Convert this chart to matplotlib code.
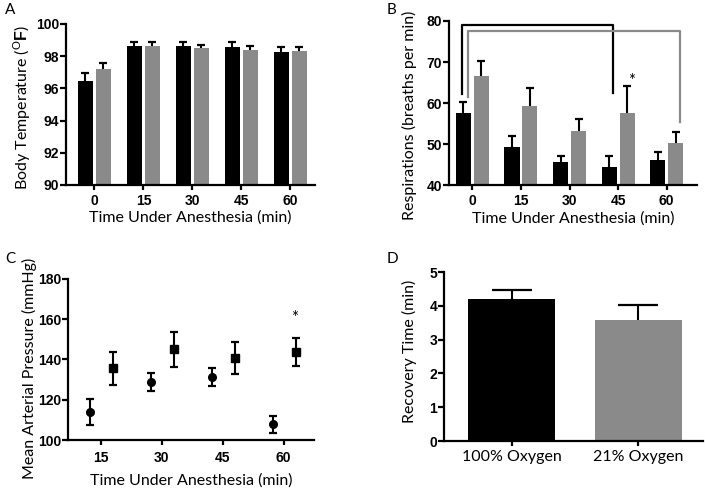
import numpy as np
import matplotlib.pyplot as plt

# ---- data ----
times = ['0', '15', '30', '45', '60']

temp_100 = [96.47, 98.60, 98.60, 98.55, 98.28]
temp_100_err = [0.50, 0.27, 0.25, 0.35, 0.26]
temp_21 = [97.23, 98.64, 98.49, 98.41, 98.34]
temp_21_err = [0.32, 0.24, 0.21, 0.24, 0.21]

resp_100 = [57.7, 49.3, 45.6, 44.4, 46.2]
resp_100_err = [2.5, 2.8, 1.6, 2.7, 2.0]
resp_21 = [66.6, 59.4, 53.3, 57.6, 50.4]
resp_21_err = [3.7, 4.2, 2.8, 6.7, 2.5]

map_x = [15, 30, 45, 60]
map_100 = [114.0, 128.9, 131.3, 107.8]
map_100_err = [6.6, 4.4, 4.3, 4.4]
map_21 = [135.5, 145.0, 140.7, 143.5]
map_21_err = [8.2, 8.6, 7.8, 6.9]

groups = ['100% Oxygen', '21% Oxygen']
recovery = [4.21, 3.57]
recovery_err = [0.27, 0.47]

BLACK = '#000000'
GREY = '#8a8a8a'
XLABEL_SIZE = 11.5
YLABEL_SIZE = 11.5

plt.rcParams['font.family'] = ['Lato', 'DejaVu Sans']
plt.rcParams['mathtext.fontset'] = 'custom'
plt.rcParams['mathtext.rm'] = 'Lato'
plt.rcParams['mathtext.bf'] = 'Liberation Sans:bold'

fig = plt.figure(figsize=(7.05, 4.88), dpi=100)


def style(ax, xpad=3):
    for s in ['top', 'right']:
        ax.spines[s].set_visible(False)
    for s in ['left', 'bottom']:
        ax.spines[s].set_linewidth(1.6)
    ax.tick_params(axis='y', length=4, width=1.6, pad=1)
    ax.tick_params(axis='x', length=3.5, width=1.6, pad=xpad)
    for lab in ax.get_xticklabels() + ax.get_yticklabels():
        lab.set_fontfamily('Liberation Sans')
        lab.set_fontweight('bold')
        lab.set_fontsize(10)


def up_errorbar(ax, x, y, err, capsize):
    # one-sided (upper) error bars, lower cap hidden
    _, caps, _ = ax.errorbar(x, y, yerr=[np.zeros(len(y)), err], fmt='none',
                             ecolor=BLACK, elinewidth=1.5, capsize=capsize,
                             capthick=1.6)
    caps[0].set_visible(False)


def grouped(ax, a, a_err, b, b_err):
    x = np.arange(len(a))
    w = 0.31
    d = 0.185
    ax.bar(x - d, a, w, color=BLACK)
    ax.bar(x + d, b, w, color=GREY)
    up_errorbar(ax, x - d, a, a_err, 2.6)
    up_errorbar(ax, x + d, b, b_err, 2.6)
    ax.set_xticks(x)
    ax.set_xticklabels(times)
    return x


# ---- A: body temperature ----
axA = fig.add_axes([0.0936, 0.621, 0.353, 0.330])
grouped(axA, temp_100, temp_100_err, temp_21, temp_21_err)
axA.set_xlim(-0.58, 4.5)
axA.set_ylim(90, 100)
axA.set_yticks(np.arange(90, 101, 2))
axA.set_ylabel(r'Body Temperature ($^{\mathrm{O}}$$\mathbf{F}$)', fontsize=YLABEL_SIZE)
axA.yaxis.set_label_coords(-0.133, 0.484)
axA.set_xlabel('Time Under Anesthesia (min)', fontsize=XLABEL_SIZE, labelpad=2)
style(axA)

# ---- B: respirations ----
axB = fig.add_axes([0.637, 0.620, 0.352, 0.337])
grouped(axB, resp_100, resp_100_err, resp_21, resp_21_err)
axB.set_xlim(-0.48, 4.63)
axB.set_ylim(40, 80)
axB.set_yticks(np.arange(40, 81, 10))
axB.plot([-0.22, -0.22, 2.90, 2.90], [62.3, 79.1, 79.1, 62.4], color=BLACK, lw=1.6,
         clip_on=False)
axB.plot([-0.09, -0.09, 4.28, 4.28], [61.5, 77.5, 77.5, 55.5], color=GREY, lw=1.6,
         clip_on=False)
axB.text(3.27, 65.4, '*', ha='center', va='center', fontsize=12)
axB.set_ylabel('Respirations (breaths per min)', fontsize=YLABEL_SIZE)
axB.yaxis.set_label_coords(-0.129, 0.427)
axB.set_xlabel('Time Under Anesthesia (min)', fontsize=XLABEL_SIZE, labelpad=2)
style(axB)

# ---- C: mean arterial pressure ----
axC = fig.add_axes([0.0965, 0.098, 0.349, 0.331])
xc = np.array(map_x)
axC.errorbar(xc - 2.7, map_100, yerr=map_100_err, fmt='o', color=BLACK, ms=5.5,
             elinewidth=1.5, capsize=2.6, capthick=1.6)
axC.errorbar(xc + 3.0, map_21, yerr=map_21_err, fmt='s', color=BLACK, ms=5.5,
             elinewidth=1.5, capsize=2.6, capthick=1.6)
axC.text(62.8, 160.5, '*', ha='center', va='center', fontsize=12)
axC.set_xlim(7, 67.5)
axC.set_ylim(100, 180)
axC.set_xticks(map_x)
axC.set_yticks(np.arange(100, 181, 20))
axC.set_ylabel('Mean Arterial Pressure (mmHg)', fontsize=YLABEL_SIZE)
axC.yaxis.set_label_coords(-0.126, 0.444)
axC.set_xlabel('Time Under Anesthesia (min)', fontsize=XLABEL_SIZE, labelpad=6)
style(axC, xpad=4)

# ---- D: recovery time ----
axD = fig.add_axes([0.630, 0.0963, 0.367, 0.346])
xd = np.arange(len(groups))
axD.bar(xd, recovery, 0.684, color=[BLACK, GREY])
up_errorbar(axD, xd, recovery, recovery_err, 14.5)
axD.set_xlim(-0.534, 1.51)
axD.set_ylim(0, 5)
axD.set_xticks(xd)
axD.set_xticklabels(groups)
axD.set_ylabel('Recovery Time (min)', fontsize=YLABEL_SIZE)
axD.yaxis.set_label_coords(-0.104, 0.533)
style(axD)
for lab in axD.get_xticklabels():
    lab.set_fontfamily('Lato')
    lab.set_fontweight('normal')
    lab.set_fontsize(XLABEL_SIZE)

for lbl, (px, py) in zip('ABCD', [(5, 3), (387, 3), (5, 252), (387, 252)]):
    fig.text(px / 705, 1 - py / 488, lbl, fontsize=11, va='top', ha='left')

fig.savefig('out.png', dpi=100)
